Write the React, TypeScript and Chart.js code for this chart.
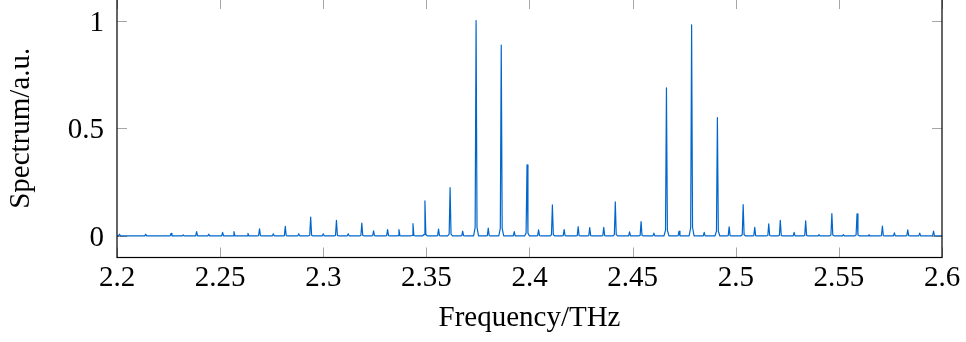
import React, { useEffect, useRef } from "react";
import { Chart, registerables } from "chart.js";

Chart.register(...registerables);

// Peak positions (THz) and heights (a.u.)
const peakFrequencies = [
  2.2012, 2.2139, 2.2262, 2.2321, 2.2386, 2.2445, 2.2512, 2.2567, 2.2635, 2.2691,
  2.2758, 2.2816, 2.2881, 2.2939, 2.3, 2.3064, 2.3121, 2.3187, 2.3244, 2.3312,
  2.3367, 2.3435, 2.3493, 2.3559, 2.3615, 2.3676, 2.3741, 2.38, 2.3863, 2.3926,
  2.3988, 2.4044, 2.4111, 2.4168, 2.4236, 2.4292, 2.436, 2.4416, 2.4485, 2.4541,
  2.4603, 2.4664, 2.4725, 2.4786, 2.4847, 2.4911, 2.4968, 2.5036, 2.5092, 2.516,
  2.5216, 2.5283, 2.5339, 2.5404, 2.5466, 2.5522, 2.5588, 2.5646, 2.5711, 2.5769,
  2.5834, 2.5892, 2.5959,
];
const peakHeights = [
  0.008, 0.008, 0.012, 0.005, 0.02, 0.008, 0.017, 0.02, 0.012, 0.033,
  0.01, 0.045, 0.01, 0.088, 0.01, 0.073, 0.01, 0.06, 0.024, 0.029,
  0.029, 0.057, 0.163, 0.032, 0.224, 0.022, 1.0, 0.036, 0.886, 0.02,
  0.33, 0.028, 0.144, 0.03, 0.043, 0.039, 0.04, 0.158, 0.019, 0.067,
  0.013, 0.687, 0.022, 0.98, 0.017, 0.549, 0.042, 0.145, 0.04, 0.056,
  0.073, 0.017, 0.07, 0.006, 0.104, 0.006, 0.103, 0.006, 0.046, 0.014,
  0.028, 0.013, 0.023,
];
// Narrow line profile around each peak (offset in THz, relative height)
const profileOffsets = [-0.0012, -0.00045, 0, 0.00045, 0.0012];
const profileLevels = [0, 0.04, 1, 0.04, 0];

const xRange = [2.2, 2.6];
const yRange = [-0.1, 1.1];
const xTickValues = [2.2, 2.25, 2.3, 2.35, 2.4, 2.45, 2.5, 2.55, 2.6];
const xTickLabels = ["2.2", "2.25", "2.3", "2.35", "2.4", "2.45", "2.5", "2.55", "2.6"];
const yTickValues = [0, 0.5, 1];
const yTickLabels = ["0", "0.5", "1"];

const lineColor = "rgb(0,102,204)";
const tickColor = "rgba(0,0,0,0.35)";
const fontFamily = "'Liberation Serif', 'Times New Roman', serif";

const framePlugin = {
  id: "frame",
  afterDatasetsDraw(chart: any) {
    const { ctx, chartArea } = chart;
    const { left, right, top, bottom } = chartArea;
    const xs = chart.scales.x;
    const ys = chart.scales.y;
    const len = 10;
    ctx.save();
    ctx.strokeStyle = tickColor;
    ctx.lineWidth = 1;
    ctx.beginPath();
    xTickValues.forEach((v) => {
      const px = Math.round(xs.getPixelForValue(v)) + 0.5;
      ctx.moveTo(px, bottom);
      ctx.lineTo(px, bottom - len);
      ctx.moveTo(px, top);
      ctx.lineTo(px, top + len);
    });
    yTickValues.forEach((v) => {
      const py = Math.round(ys.getPixelForValue(v)) + 0.5;
      ctx.moveTo(left, py);
      ctx.lineTo(left + len, py);
      ctx.moveTo(right, py);
      ctx.lineTo(right - len, py);
    });
    ctx.stroke();
    ctx.strokeStyle = "#000";
    ctx.lineWidth = 1.2;
    ctx.strokeRect(left, top, right - left, bottom - top);
    ctx.restore();
  },
};

export default function App() {
  const ref = useRef<HTMLCanvasElement | null>(null);

  useEffect(() => {
    if (!ref.current) return;
    const points: { x: number; y: number }[] = [{ x: xRange[0], y: 0 }];
    peakFrequencies.forEach((f, i) => {
      profileOffsets.forEach((o, j) => {
        points.push({ x: f + o, y: peakHeights[i] * profileLevels[j] });
      });
    });
    points.push({ x: xRange[1], y: 0 });

    const chart = new Chart(ref.current, {
      type: "line",
      data: {
        datasets: [
          {
            data: points,
            borderColor: lineColor,
            borderWidth: 1.2,
            pointRadius: 0,
            tension: 0,
            fill: false,
            borderJoinStyle: "round",
          } as any,
        ],
      },
      plugins: [framePlugin],
      options: {
        animation: false,
        responsive: false,
        layout: { padding: { left: 0, right: 24, top: 0, bottom: 0 } },
        plugins: { legend: { display: false }, tooltip: { enabled: false } },
        scales: {
          x: {
            type: "linear",
            min: xRange[0],
            max: xRange[1],
            afterBuildTicks: (s: any) => {
              s.ticks = xTickValues.map((v) => ({ value: v }));
            },
            afterFit: (s: any) => {
              s.height = 84.5;
              s.paddingLeft = 0;
              s.paddingRight = 0;
            },
            grid: { display: false, drawTicks: false },
            border: { display: false },
            ticks: {
              autoSkip: false,
              maxRotation: 0,
              padding: 6.5,
              color: "#000",
              font: { family: fontFamily, size: 29, lineHeight: 1 },
              callback: (_v: any, i: number) => xTickLabels[i],
            },
            title: {
              display: true,
              text: "Frequency/THz",
              color: "#000",
              font: { family: fontFamily, size: 29, lineHeight: 1.2 },
              padding: { top: 0, bottom: 6 },
            },
          },
          y: {
            type: "linear",
            min: yRange[0],
            max: yRange[1],
            afterBuildTicks: (s: any) => {
              s.ticks = yTickValues.map((v) => ({ value: v }));
            },
            afterFit: (s: any) => {
              s.width = 117;
              s.paddingTop = 0;
              s.paddingBottom = 0;
            },
            grid: { display: false, drawTicks: false },
            border: { display: false },
            ticks: {
              autoSkip: false,
              padding: 13,
              color: "#000",
              font: { family: fontFamily, size: 29, lineHeight: 0.18 },
              callback: (_v: any, i: number) => ["", yTickLabels[i]],
            },
            title: {
              display: true,
              text: "Spectrum/a.u.",
              color: "#000",
              font: { family: fontFamily, size: 29, lineHeight: 1.2 },
              padding: { top: 4, bottom: 0 },
            },
          },
        },
      },
    });
    return () => chart.destroy();
  }, []);

  return (
    <div style={{ position: "absolute", left: 0, top: -1, width: 966, height: 343 }}>
      <canvas ref={ref} width={966} height={343} style={{ display: "block" }} />
    </div>
  );
}
